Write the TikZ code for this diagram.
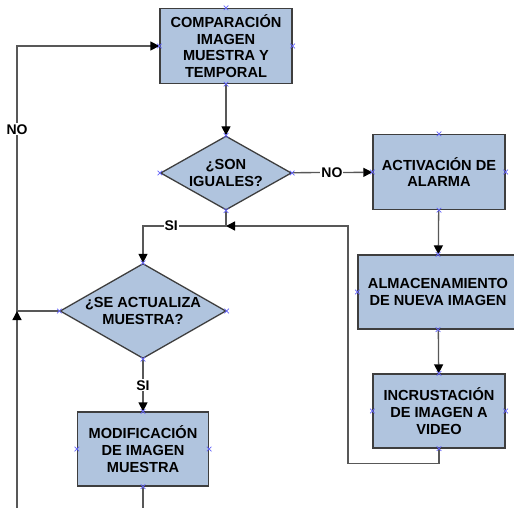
\documentclass[tikz,border=0pt]{standalone}
\usepackage{fontspec}
\setmainfont{Liberation Sans}
\usetikzlibrary{
  positioning, arrows.meta,
  shapes.geometric, shapes.misc
}
\definecolor{boxfill}{RGB}{176,196,222}
\definecolor{boxline}{RGB}{62,62,62}
\definecolor{wirecol}{RGB}{88,88,88}
\definecolor{pincol}{RGB}{100,100,250}

\begin{document}
\begin{tikzpicture}[x=1pt,y=-1pt,
    font=\fontsize{14.6}{16.6}\selectfont\bfseries,
    proc/.style={rectangle,draw=boxline,line width=1.3pt,fill=boxfill,
      minimum width=132pt,minimum height=75pt,align=center,inner sep=2pt},
    ask/.style={diamond,draw=boxline,line width=1.3pt,fill=boxfill,
      align=center,inner sep=0pt,shape aspect=1.77},
    wire/.style={draw=wirecol,line width=1.3pt},
    arr/.style={wire,-{Triangle[length=9pt,width=9pt,color=black]}},
    lbl/.style={fill=white,inner sep=1pt,font=\fontsize{14}{15}\selectfont\bfseries},
    pin/.style={cross out,draw=pincol,line width=0.6pt,minimum size=4pt,inner sep=0pt}
  ]
      \useasboundingbox (0,0) rectangle (514,508); % page size
      \node[proc] (comp) at (226,46) {COMPARACIÓN\\IMAGEN\\MUESTRA Y\\TEMPORAL};
      \node[ask,minimum width=131pt,minimum height=74pt] (son) at (226,173) {¿SON\\IGUALES?};
      \node[proc] (alarma) at (439,172) {ACTIVACIÓN DE\\ALARMA};
      \node[proc,minimum width=160pt,minimum height=74pt] (almac) at (438,292) {ALMACENAMIENTO\\DE NUEVA IMAGEN};
      \node[proc,minimum height=74pt] (incrust) at (439,411) {INCRUSTACIÓN\\DE IMAGEN A\\VIDEO};
      \node[ask,shape aspect=1.75,minimum width=166pt,minimum height=95pt] (actual) at (143,311) {¿SE ACTUALIZA\\MUESTRA?};
      \node[proc,minimum width=131pt,minimum height=74pt] (modif) at (143,449) {MODIFICACIÓN\\DE IMAGEN\\MUESTRA};
      \coordinate (jn) at (226,226);
      \coordinate (rt) at (348,226);
      \coordinate (lft) at (17,311);
      % connectors
      \draw[arr] (comp) -- (son);
      \draw[arr] (son) -- (alarma) node[midway,lbl] {NO};
      \draw[arr] (alarma) -- (almac);
      \draw[arr] (almac) -- (incrust);
      \draw[arr] (incrust.south) -- ++(0,15) -| (rt) -- (jn);
      \draw[arr] (son.south) -- (jn) -| (actual.north) node[pos=0.33,lbl] {SI};
      \draw[arr] (actual) -- (modif) node[midway,lbl] {SI};
      \draw[arr] (actual.west) -- (lft) |- (comp.west) node[pos=0.343,lbl] {NO};
      \draw[arr] (modif.south) -- ++(0,40) -| (lft);
      % connection points
      \foreach \n in {comp,son,alarma,almac,incrust,actual,modif}
      \foreach \a in {north,south,east,west}
      \node[pin] at (\n.\a) {};
    \end{tikzpicture}
\end{document}
